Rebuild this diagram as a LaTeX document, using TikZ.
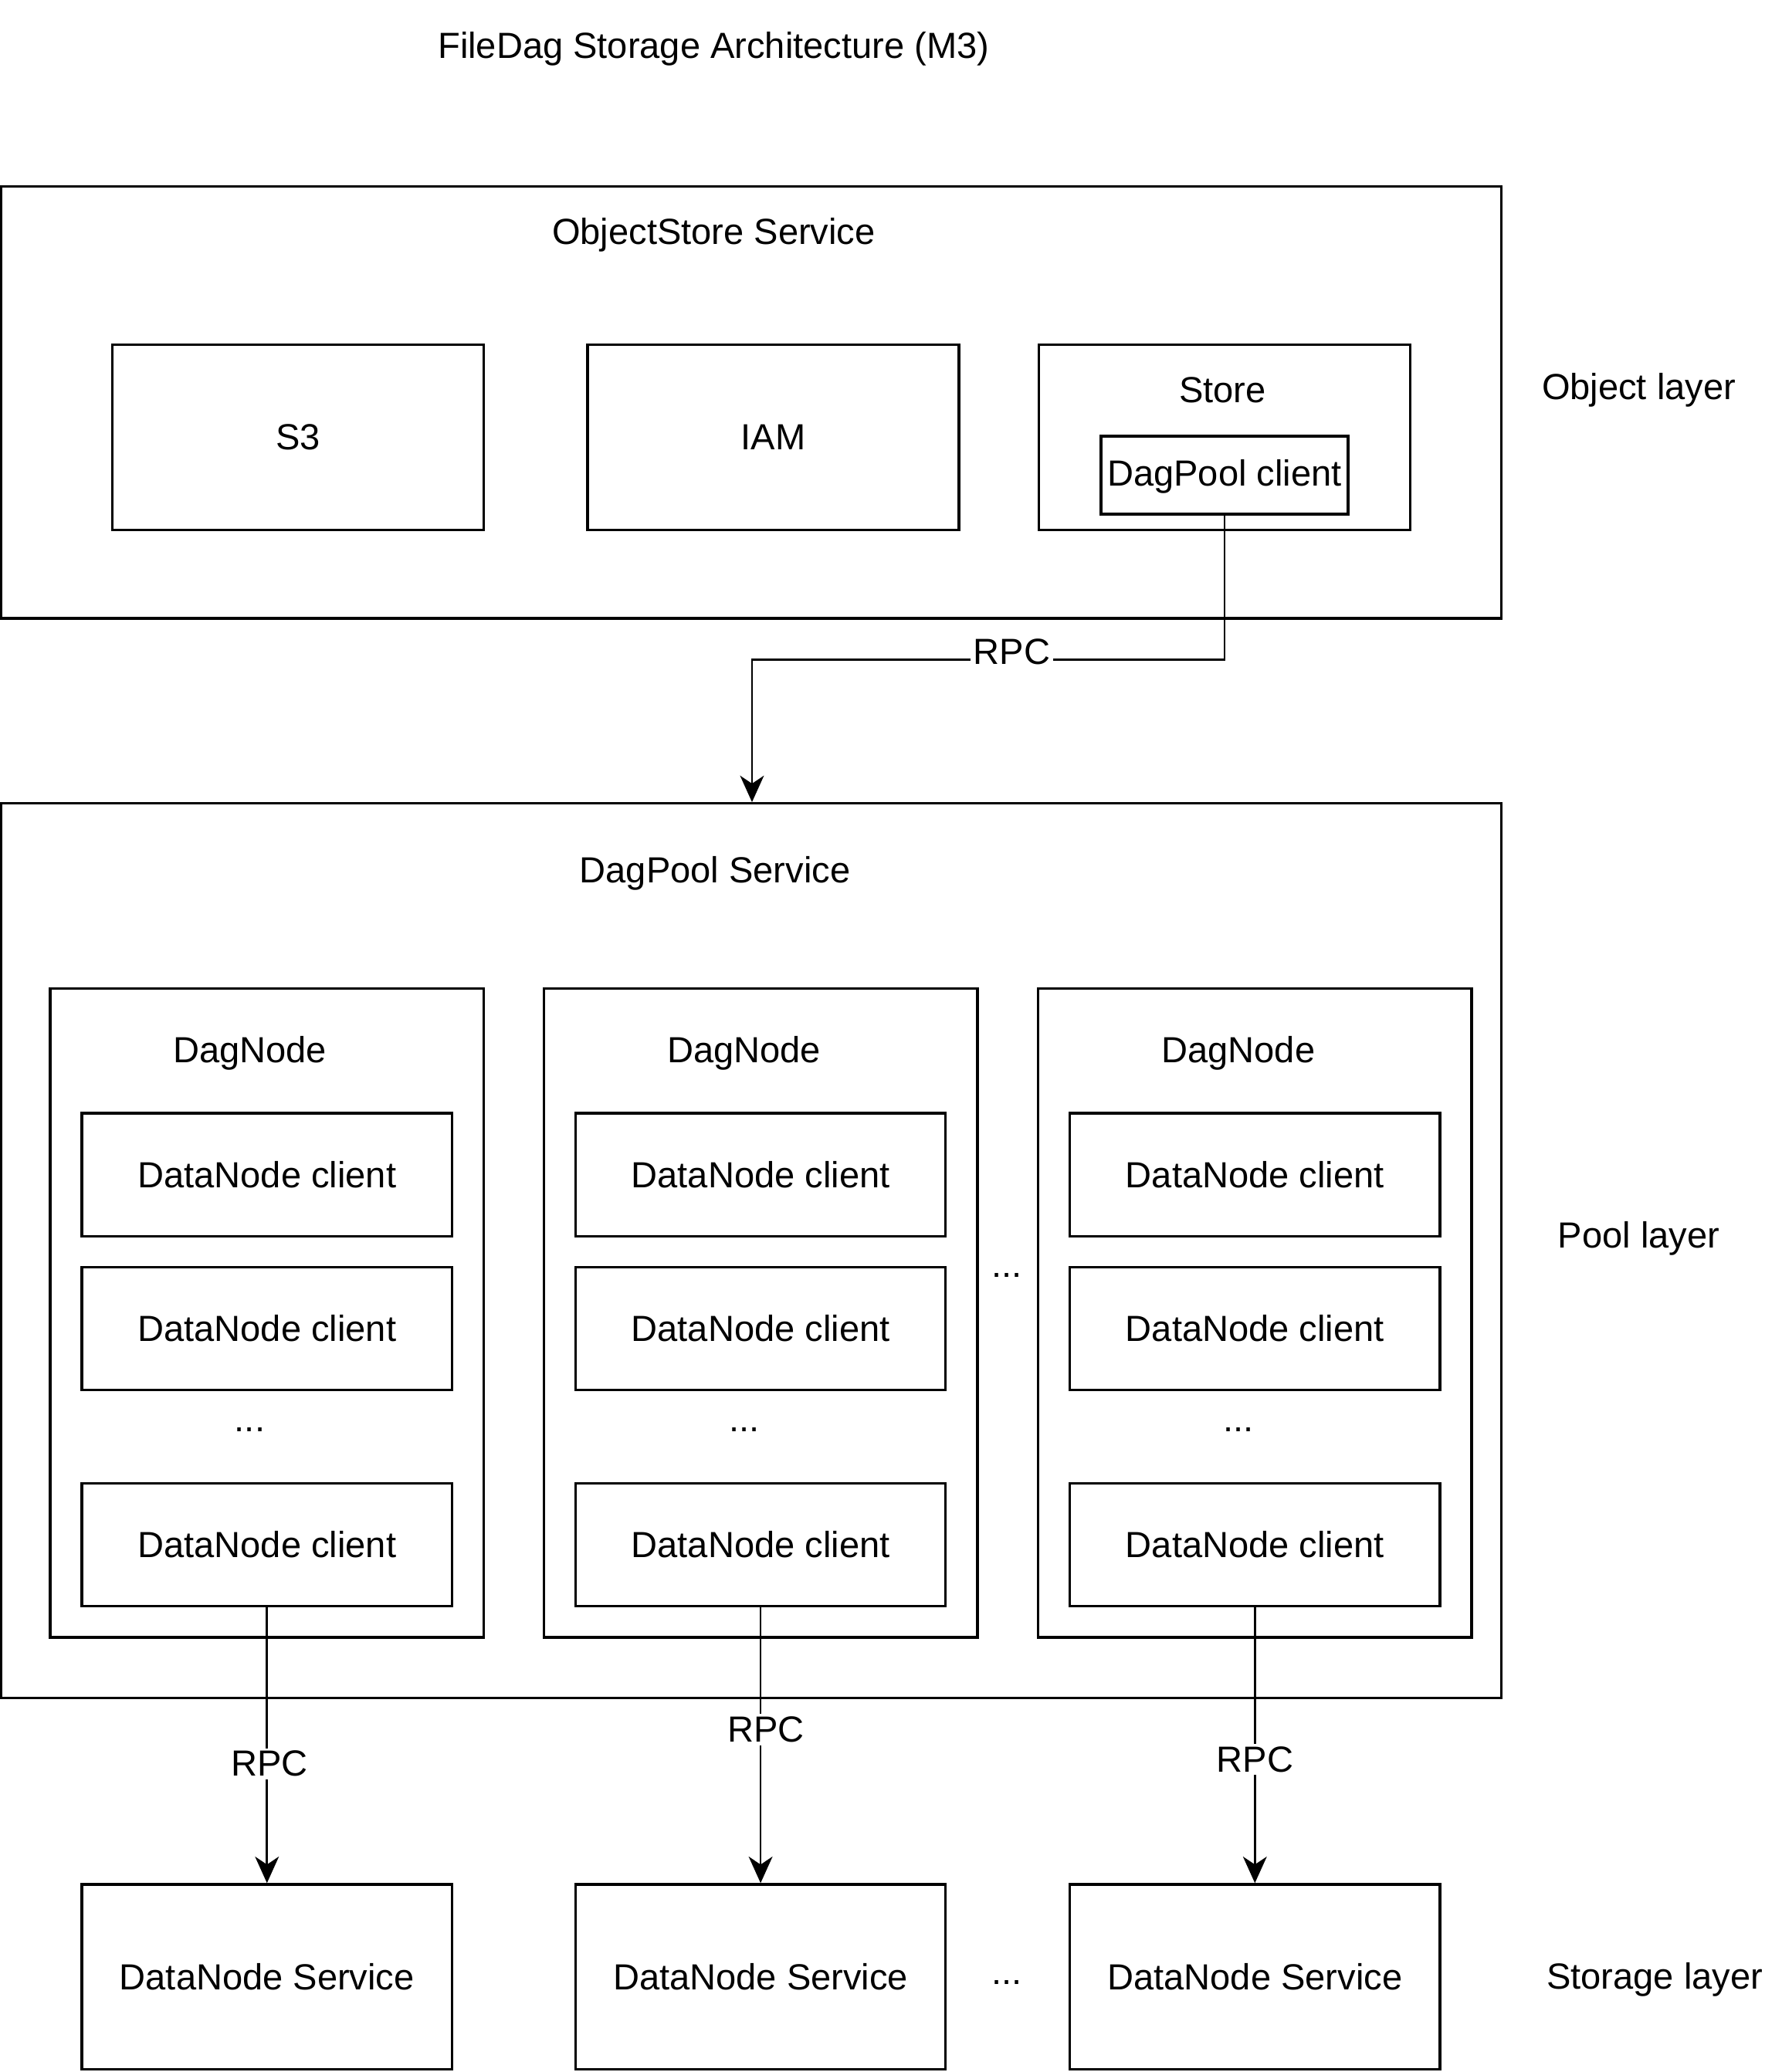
\documentclass[tikz,border=0pt]{standalone}
\usepackage{fontspec}
\setmainfont{Liberation Sans}
\usetikzlibrary{arrows.meta}

\begin{document}
\begin{tikzpicture}[x=1pt,y=-1pt,line width=2pt,font=\fontsize{27.5}{33}\selectfont,
          box/.style={draw,rectangle,inner sep=0pt},
          client/.style={box,minimum width=280pt,minimum height=93pt},
          dagnode/.style={box,minimum width=328pt,minimum height=491pt},
          rpcarrow/.style={-{Stealth[length=20pt,width=18pt,inset=6pt]},line width=1.6pt},
          rpclabel/.style={fill=white,inner sep=2pt}]
          \useasboundingbox (0,0) rectangle (1348,1568);

          \node (title) at (540,37) {FileDag Storage Architecture (M3)};

          %object layer
          \node[box,minimum width=1135pt,minimum height=327pt] (oss) at (568.5,304.5) {};
          \node (osslabel) at (540,178) {ObjectStore Service};
          \node[box,minimum width=281pt,minimum height=140pt] (s3) at (225.5,331) {S3};
          \node[box,minimum width=281pt,minimum height=140pt] (iam) at (585,331) {IAM};
          \node[box,minimum width=281pt,minimum height=140pt] (store) at (926.5,331) {};
          \node (storelabel) at (925,295) {Store};
          \node[box,minimum width=187pt,minimum height=59pt,text depth=4pt] (dpc) at (926.5,359.5) {DagPool client};
          \node (objlayer) at (1240,295) {Object layer};

          %pool layer
          \node[box,minimum width=1135pt,minimum height=677pt] (dps) at (568.5,946.5) {};
          \node (dpslabel) at (541,661) {DagPool Service};

          \node[dagnode] (dn1) at (202,993.5) {};
          \node (dn1label) at (189,797) {DagNode};
          \node[client] (dc1a) at (202,889) {DataNode client};
          \node[client] (dc1b) at (202,1005.5) {DataNode client};
          \node (dots1) at (189,1082) {...};
          \node[client] (dc1c) at (202,1169) {DataNode client};

          \node[dagnode] (dn2) at (575.5,993.5) {};
          \node (dn2label) at (563,797) {DagNode};
          \node[client] (dc2a) at (575.5,889) {DataNode client};
          \node[client] (dc2b) at (575.5,1005.5) {DataNode client};
          \node (dots2) at (563,1082) {...};
          \node[client] (dc2c) at (575.5,1169) {DataNode client};

          \node[dagnode] (dn3) at (949.5,993.5) {};
          \node (dn3label) at (937,797) {DagNode};
          \node[client] (dc3a) at (949.5,889) {DataNode client};
          \node[client] (dc3b) at (949.5,1005.5) {DataNode client};
          \node (dots3) at (937,1082) {...};
          \node[client] (dc3c) at (949.5,1169) {DataNode client};

          \node (dotsmid) at (762,965) {...};
          \node (poollayer) at (1240,937) {Pool layer};

          %storage layer
          \node[box,minimum width=280pt,minimum height=140pt] (ds1) at (202,1496) {DataNode Service};
          \node[box,minimum width=280pt,minimum height=140pt] (ds2) at (575.5,1496) {DataNode Service};
          \node[box,minimum width=280pt,minimum height=140pt] (ds3) at (949.5,1496) {DataNode Service};
          \node (dotsds) at (762,1500) {...};
          \node (storagelayer) at (1252,1498) {Storage layer};

          %rpc connections
          \coordinate (rpcbend) at (569,499);
          \draw[rpcarrow] (dpc.south) |- node[rpclabel,pos=0.725,yshift=6pt]{RPC} (rpcbend) -- (rpcbend |- dps.north);
          \draw[rpcarrow] (dc1c.south) -- node[rpclabel,pos=0.567,xshift=2pt]{RPC} (ds1.north);
          \draw[rpcarrow] (dc2c.south) -- node[rpclabel,pos=0.443,xshift=4pt]{RPC} (ds2.north);
          \draw[rpcarrow] (dc3c.south) -- node[rpclabel,pos=0.552]{RPC} (ds3.north);
          \end{tikzpicture}
\end{document}
